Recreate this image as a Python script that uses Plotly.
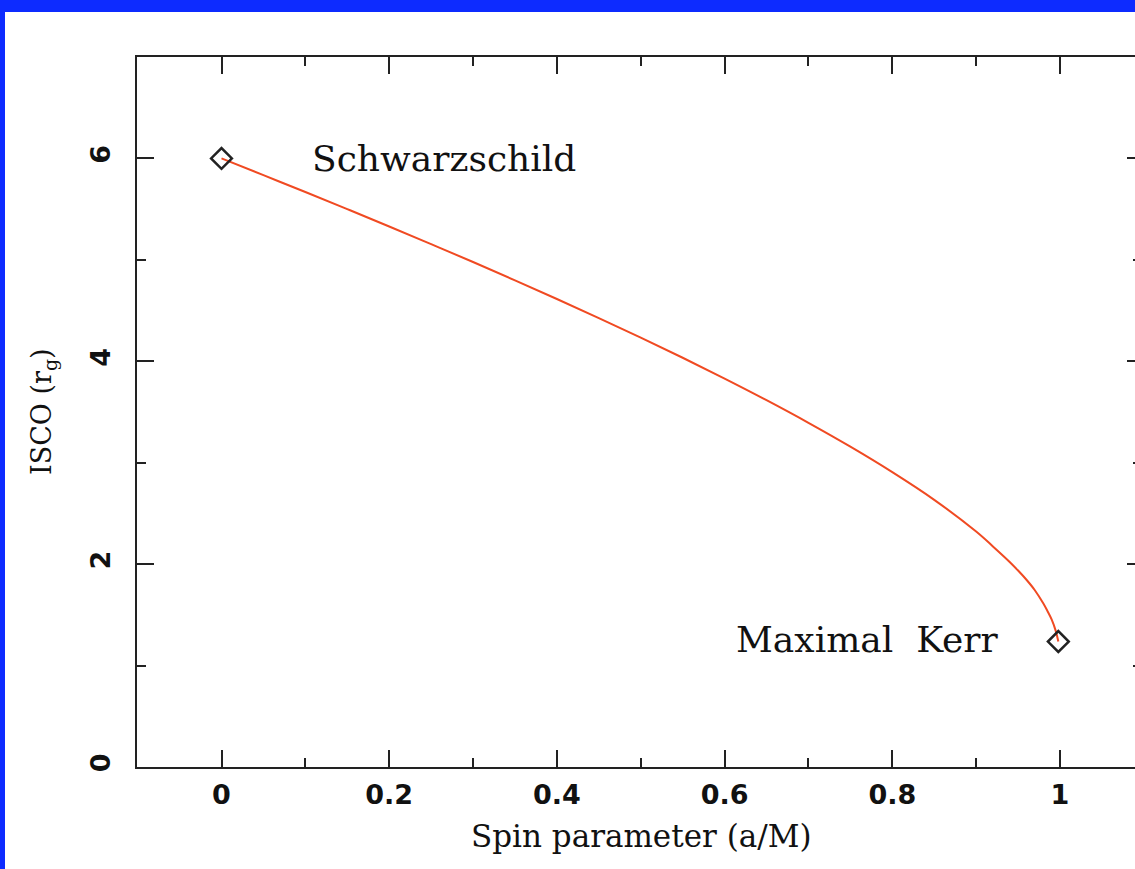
import plotly.graph_objects as go

# ISCO radius versus black-hole spin (prograde orbits)
spin = [0.0, 0.05, 0.1, 0.15, 0.2, 0.25, 0.3, 0.35, 0.4, 0.45, 0.5, 0.55,
        0.6, 0.65, 0.7, 0.75, 0.8, 0.85, 0.9, 0.92, 0.94, 0.95, 0.96, 0.97,
        0.98, 0.985, 0.99, 0.995, 0.998]
isco = [6.000, 5.835, 5.669, 5.500, 5.329, 5.155, 4.979, 4.798, 4.614, 4.426,
        4.233, 4.035, 3.829, 3.616, 3.393, 3.158, 2.907, 2.634, 2.321, 2.175,
        2.022, 1.937, 1.846, 1.743, 1.614, 1.538, 1.455, 1.340, 1.237]

# labelled limiting cases
case_spin = [0.0, 0.998]
case_isco = [6.000, 1.237]
case_names = ["Schwarzschild", "Maximal&nbsp; Kerr"]

x_ticks = [0, 0.2, 0.4, 0.6, 0.8, 1.0]
x_tick_labels = ["0", "0.2", "0.4", "0.6", "0.8", "1"]
x_minor = [-0.1, 0.1, 0.3, 0.5, 0.7, 0.9, 1.1]
y_ticks = [0, 2, 4, 6]
y_tick_labels = ["0", "2", "4", "6"]
y_minor = [1, 3, 5, 7]

AXIS = "#222222"
CURVE = "#f04a22"
FRAME = "#0d2bff"
TICKFONT = dict(family="DejaVu Sans", size=27, color="#111111", weight="bold")
TEXTFONT = "DejaVu Serif"

W, H = 1135, 869
ML, MR, MT, MB = 137, 0, 57, 102
pw, ph = W - ML - MR, H - MT - MB

fig = go.Figure()

fig.add_trace(go.Scatter(
    x=spin, y=isco, mode="lines",
    line=dict(color=CURVE, width=2, shape="spline", smoothing=1.0),
    hoverinfo="skip", showlegend=False,
))

fig.add_trace(go.Scatter(
    x=case_spin, y=case_isco, mode="markers", yaxis="y2",
    marker=dict(symbol="diamond-open", size=16, color="#222222",
                line=dict(width=2.5, color="#222222")),
    showlegend=False,
))

fig.add_annotation(x=0.105, y=case_isco[0], text=case_names[0],
                   xanchor="left", yanchor="middle", showarrow=False,
                   font=dict(family=TEXTFONT, size=36, color="#111111"))
fig.add_annotation(x=0.611, y=case_isco[1] + 0.02, text=case_names[1],
                   xanchor="left", yanchor="middle", showarrow=False,
                   font=dict(family=TEXTFONT, size=36, color="#111111"))

# axis titles
fig.add_annotation(xref="paper", yref="paper",
                   x=(641 - ML) / pw, y=(MT + ph - 836) / ph,
                   text="Spin parameter (a/M)", showarrow=False,
                   xanchor="center", yanchor="middle",
                   font=dict(family=TEXTFONT, size=31, color="#111111"))
fig.add_annotation(xref="paper", yref="paper",
                   x=(43 - ML) / pw, y=0.5,
                   text="ISCO (r<sub>g</sub>)", showarrow=False, textangle=-90,
                   xanchor="center", yanchor="middle",
                   font=dict(family=TEXTFONT, size=27, color="#111111"))

# blue frame along the top and left edges
fig.add_shape(type="rect", xref="paper", yref="paper",
              x0=-ML / pw, x1=(W - ML) / pw,
              y0=(MT + ph - 12) / ph, y1=(MT + ph) / ph,
              fillcolor=FRAME, line_width=0, layer="above")
fig.add_shape(type="rect", xref="paper", yref="paper",
              x0=-ML / pw, x1=(5 - ML) / pw,
              y0=-MB / ph, y1=(MT + ph) / ph,
              fillcolor=FRAME, line_width=0, layer="above")

x0_px, x1_px = 221.5, 1060.0
per_unit = x1_px - x0_px
x_lo = (ML - x0_px) / per_unit
x_hi = (W - MR - x0_px) / per_unit

fig.update_layout(
    width=W, height=H,
    margin=dict(l=ML, r=MR, t=MT, b=MB, autoexpand=False),
    paper_bgcolor="white", plot_bgcolor="white",
    xaxis=dict(
        range=[x_lo, x_hi], showgrid=False, zeroline=False,
        showline=True, linecolor=AXIS, linewidth=2, mirror="ticks",
        ticks="inside", ticklen=17, tickwidth=2, tickcolor=AXIS,
        tickmode="array", tickvals=x_ticks, ticktext=x_tick_labels,
        tickfont=TICKFONT, ticklabelstandoff=3,
        minor=dict(tickmode="array", tickvals=x_minor, ticks="inside",
                   ticklen=9, tickwidth=2, tickcolor=AXIS, showgrid=False),
    ),
    yaxis=dict(
        range=[0, 7], showgrid=False, zeroline=False,
        showline=True, linecolor=AXIS, linewidth=2, mirror=False,
        ticks="inside", ticklen=17, tickwidth=2, tickcolor=AXIS,
        tickmode="array", tickvals=y_ticks, ticktext=y_tick_labels,
        tickfont=TICKFONT, tickangle=-90, ticklabelstandoff=14,
        minor=dict(tickmode="array", tickvals=y_minor, ticks="inside",
                   ticklen=9, tickwidth=2, tickcolor=AXIS, showgrid=False),
    ),
    yaxis2=dict(
        range=[0, 7], overlaying="y", side="right", anchor="x",
        showgrid=False, zeroline=False, showline=False,
        ticks="inside", ticklen=8, tickwidth=2, tickcolor=AXIS,
        tickmode="array", tickvals=y_ticks, showticklabels=False,
        minor=dict(tickmode="array", tickvals=y_minor, ticks="inside",
                   ticklen=2, tickwidth=2, tickcolor=AXIS, showgrid=False),
    ),
)

fig.write_html("out.html")
